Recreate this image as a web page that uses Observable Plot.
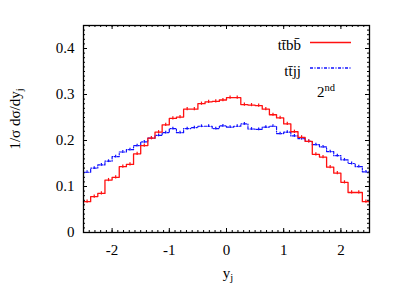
<!DOCTYPE html>
<html><head><meta charset="utf-8">
<script src="https://cdn.jsdelivr.net/npm/d3@7"></script>
<script src="https://cdn.jsdelivr.net/npm/@observablehq/plot@0.6"></script>
<style>body{margin:0;background:#fff} svg{display:block}</style>
</head><body><div id="chart"></div>
<script>
// histogram bins: 40 bins of width 0.125 from -2.5 to 2.5
const binLo = -2.5, binWidth = 0.125;
const ttbb = [0.067,0.078,0.085,0.114,0.120,0.143,0.148,0.171,0.189,0.205,
              0.218,0.234,0.248,0.251,0.268,0.268,0.280,0.284,0.285,0.288,
              0.293,0.293,0.278,0.277,0.276,0.268,0.256,0.249,0.236,0.219,
              0.207,0.198,0.170,0.164,0.142,0.129,0.109,0.087,0.087,0.067];
const ttjj = [0.131,0.140,0.147,0.155,0.165,0.175,0.180,0.189,0.197,0.205,
              0.211,0.217,0.226,0.217,0.226,0.228,0.231,0.231,0.226,0.232,
              0.229,0.231,0.236,0.225,0.224,0.229,0.231,0.215,0.218,0.210,
              0.204,0.198,0.191,0.186,0.176,0.167,0.158,0.150,0.143,0.132];
const errTtbb = 0.0035, errTtjj = 0.003;
const xTicks = [-2, -1, 0, 1, 2];
const yTicks = [0, 0.1, 0.2, 0.3, 0.4];
const xMinor = d3.range(-2.5, 2.5001, 0.1).map(v => +v.toFixed(2));
const yMinor = d3.range(0, 0.4501, 0.01).map(v => +v.toFixed(3));
const seriesNames = ["tt\u0304bb\u0304", "tt\u0304jj"];
const seriesColors = ["#ff1010", "#1010ff"];
const orderText = ["2", "nd"];

const W = 407, H = 285, mL = 83, mR = 38, mT = 25, mB = 53;
const iW = W - mL - mR, iH = H - mT - mB;
const majLen = 4, minLen = 2;
const FONT = "Liberation Serif, DejaVu Serif, serif";

function steps(vals) {
  const pts = vals.map((v, i) => ({x: binLo + i * binWidth, y: v}));
  pts.push({x: binLo + vals.length * binWidth, y: vals[vals.length - 1]});
  return pts;
}
const centers = ttbb.map((_, i) => binLo + (i + 0.5) * binWidth);
const tk = {stroke: "black", strokeWidth: 1};

const chart = Plot.plot({
  width: W, height: H,
  marginLeft: mL, marginRight: mR, marginTop: mT, marginBottom: mB,
  style: {fontFamily: FONT, fontSize: "15px", background: "white", color: "black"},
  x: {domain: [-2.5, 2.5], axis: null},
  y: {domain: [0, 0.45], axis: null},
  marks: [
    Plot.ruleX(xTicks, {x: d => d, insetTop: iH - majLen, ...tk}),
    Plot.ruleX(xTicks, {x: d => d, insetBottom: iH - majLen, ...tk}),
    Plot.ruleX(xMinor, {x: d => d, insetTop: iH - minLen, ...tk}),
    Plot.ruleX(xMinor, {x: d => d, insetBottom: iH - minLen, ...tk}),
    Plot.ruleY(yTicks, {y: d => d, insetRight: iW - majLen, ...tk}),
    Plot.ruleY(yTicks, {y: d => d, insetLeft: iW - majLen, ...tk}),
    Plot.ruleY(yMinor, {y: d => d, insetRight: iW - minLen, ...tk}),
    Plot.ruleY(yMinor, {y: d => d, insetLeft: iW - minLen, ...tk}),
    Plot.axisX(xTicks, {anchor: "bottom", tickSize: 0, tickPadding: 12, tickFormat: d => String(d), fontSize: 15, fontFamily: FONT, label: null}),
    Plot.axisY(yTicks, {anchor: "left", tickSize: 0, tickPadding: 9, tickFormat: d => String(d), fontSize: 15, fontFamily: FONT, label: null}),
    Plot.line(steps(ttjj), {x: "x", y: "y", curve: "step-after", stroke: seriesColors[1], strokeWidth: 1.2, strokeDasharray: "3,1.5,1,1.5"}),
    Plot.ruleX(ttjj, {x: (d, i) => centers[i], y1: d => d - errTtjj, y2: d => d + errTtjj, stroke: seriesColors[1], strokeWidth: 1.2}),
    Plot.line(steps(ttbb), {x: "x", y: "y", curve: "step-after", stroke: seriesColors[0], strokeWidth: 1.3}),
    Plot.ruleX(ttbb, {x: (d, i) => centers[i], y1: d => d - errTtbb, y2: d => d + errTtbb, stroke: seriesColors[0], strokeWidth: 1.2}),
    Plot.frame({stroke: "black", strokeWidth: 1.3})
  ]
});
document.getElementById("chart").appendChild(chart);

const svg = d3.select(chart);
const g = svg.append("g").attr("fill", "black").style("font-family", FONT);
const yl = g.append("text").attr("transform", "translate(20,119) rotate(-90)")
  .attr("text-anchor", "middle").attr("font-size", 15);
yl.append("tspan").text("1/\u03c3 d\u03c3/dy");
yl.append("tspan").attr("font-size", 10.5).attr("dy", 3).text("j");
const xl = g.append("text").attr("x", 228).attr("y", 278).attr("text-anchor", "middle").attr("font-size", 15);
xl.append("tspan").text("y");
xl.append("tspan").attr("font-size", 10.5).attr("dy", 3).text("j");
seriesNames.forEach((name, i) => {
  g.append("text").attr("x", 301).attr("y", 50 + 26 * i).attr("text-anchor", "end")
    .attr("font-size", 15).text(name);
  g.append("line").attr("x1", 310).attr("x2", 351)
    .attr("y1", 42.5 + 25.5 * i).attr("y2", 42.5 + 25.5 * i)
    .attr("stroke", seriesColors[i]).attr("stroke-width", 1.3)
    .attr("stroke-dasharray", i === 1 ? "3,1.5,1,1.5" : null);
});
const ot = g.append("text").attr("x", 326).attr("y", 97).attr("font-size", 15);
ot.append("tspan").text(orderText[0]);
ot.append("tspan").attr("font-size", 10.5).attr("dy", -6).text(orderText[1]);
</script>
</body></html>
